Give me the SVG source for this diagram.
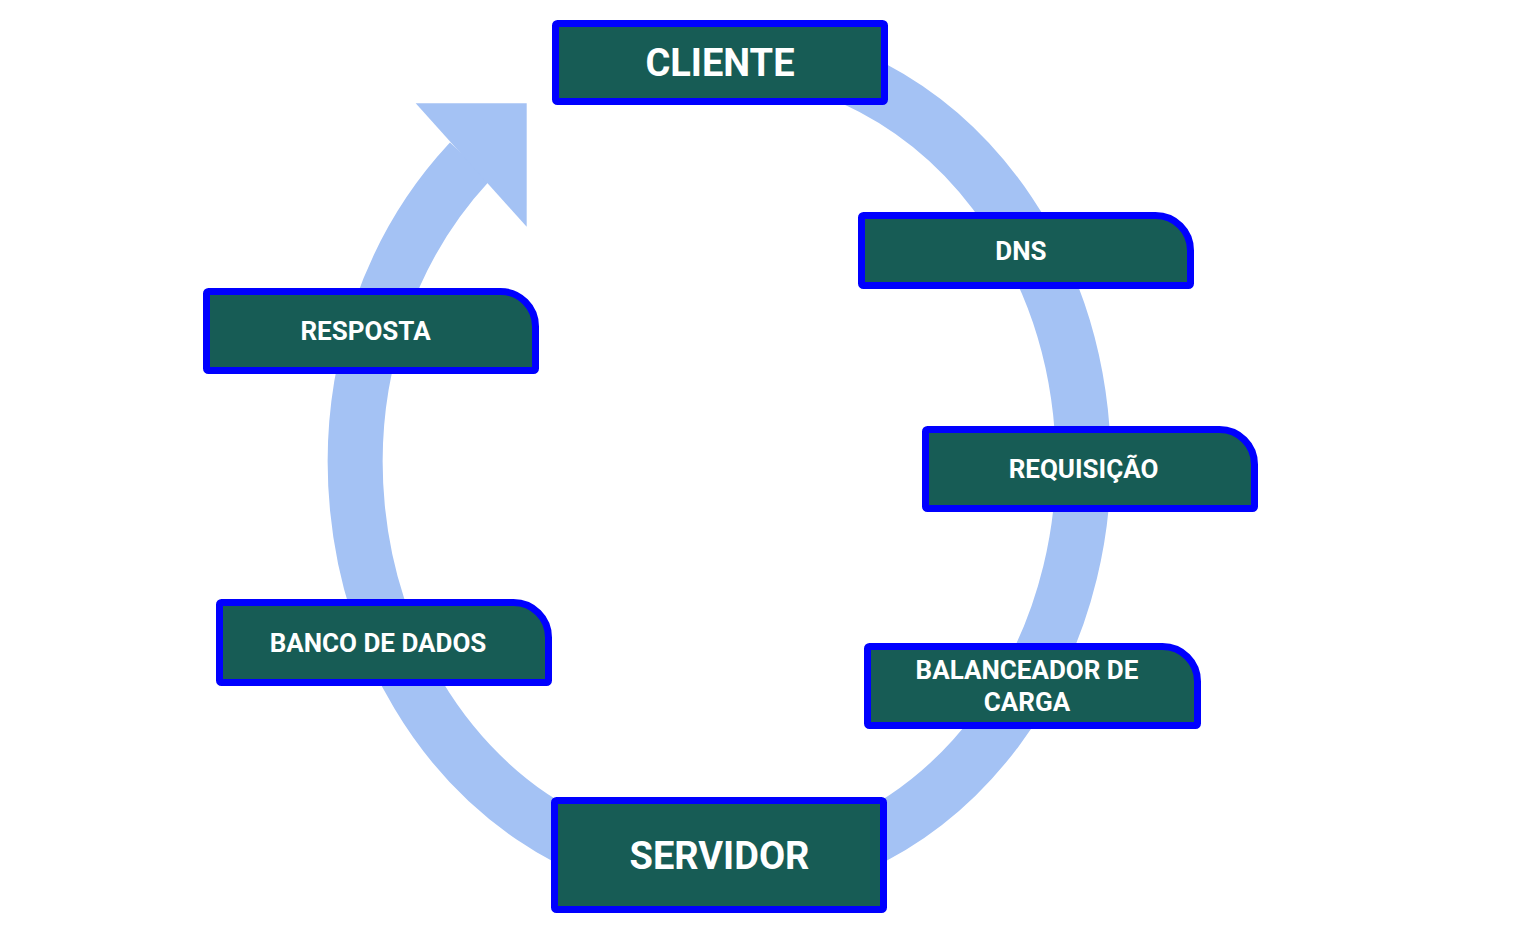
<svg xmlns="http://www.w3.org/2000/svg" width="1536" height="940" viewBox="0 0 1536 940">
<style>
.node{fill:#175C55;stroke:#0000FF;stroke-width:7;stroke-linejoin:round}
.big{font-family:Roboto,"Liberation Sans",sans-serif;font-weight:bold;font-size:38px;fill:#FFFFFF;text-anchor:middle}
.lbl{font-family:Roboto,"Liberation Sans",sans-serif;font-weight:bold;font-size:26px;fill:#FFFFFF;text-anchor:middle}
</style>
<rect width="1536" height="940" fill="#FFFFFF"/>
<g id="connectors">
<path d="M719,49.5 A364,413 0 1 1 468.3,163.3 L470,161.5" fill="none" stroke="#A4C2F4" stroke-width="55"/>
<polygon points="415.7,103.3 526.7,103.3 526.7,226.7" fill="#A4C2F4"/>
</g>
<g id="cliente">
<rect class="node" x="555.5" y="23.5" width="329" height="78" rx="2"/>
<text class="big" x="720" y="75.5">CLIENTE</text>
</g>
<g id="dns">
<path class="node" d="M863.5,215.5 H1155.5 A35,35 0 0 1 1190.5,250.5 V283.5 A2,2 0 0 1 1188.5,285.5 H863.5 A2,2 0 0 1 861.5,283.5 V217.5 A2,2 0 0 1 863.5,215.5 Z"/>
<text class="lbl" x="1021" y="260">DNS</text>
</g>
<g id="requisicao">
<path class="node" d="M927.5,429.5 H1219.5 A35,35 0 0 1 1254.5,464.5 V506.5 A2,2 0 0 1 1252.5,508.5 H927.5 A2,2 0 0 1 925.5,506.5 V431.5 A2,2 0 0 1 927.5,429.5 Z"/>
<text class="lbl" x="1083.5" y="478.3">REQUISIÇÃO</text>
</g>
<g id="balanceador">
<path class="node" d="M869.5,646.5 H1162.5 A35,35 0 0 1 1197.5,681.5 V723.5 A2,2 0 0 1 1195.5,725.5 H869.5 A2,2 0 0 1 867.5,723.5 V648.5 A2,2 0 0 1 869.5,646.5 Z"/>
<text class="lbl" x="1027" y="679">BALANCEADOR DE</text>
<text class="lbl" x="1027" y="710.5">CARGA</text>
</g>
<g id="servidor">
<rect class="node" x="554.5" y="800.5" width="329" height="109" rx="2"/>
<text class="big" x="719.5" y="868.5">SERVIDOR</text>
</g>
<g id="banco">
<path class="node" d="M221.5,602.5 H513.5 A35,35 0 0 1 548.5,637.5 V680.5 A2,2 0 0 1 546.5,682.5 H221.5 A2,2 0 0 1 219.5,680.5 V604.5 A2,2 0 0 1 221.5,602.5 Z"/>
<text class="lbl" x="378" y="651.7">BANCO DE DADOS</text>
</g>
<g id="resposta">
<path class="node" d="M208.5,291.5 H500.5 A35,35 0 0 1 535.5,326.5 V368.5 A2,2 0 0 1 533.5,370.5 H208.5 A2,2 0 0 1 206.5,368.5 V293.5 A2,2 0 0 1 208.5,291.5 Z"/>
<text class="lbl" x="365.5" y="340">RESPOSTA</text>
</g>
</svg>
